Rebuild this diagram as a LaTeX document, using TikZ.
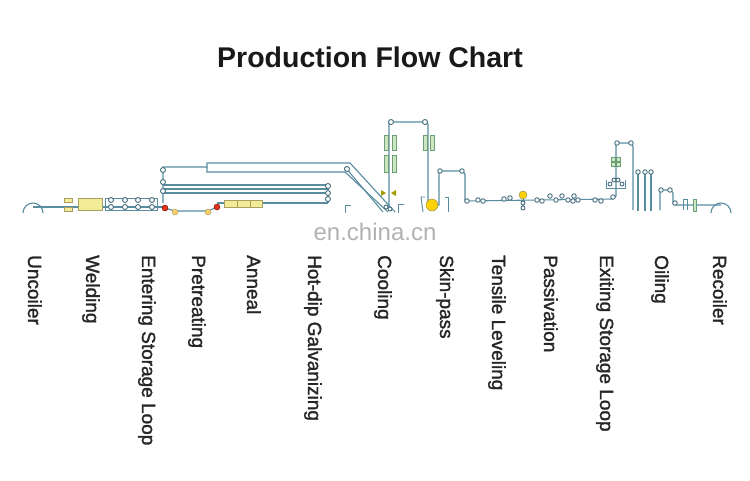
\documentclass[tikz,border=0pt]{standalone}
\usepackage{fontspec}
\setmainfont{Liberation Sans}
\newfontfamily\labfont{Liberation Sans}[FakeBold=1.5]
\begin{document}
\begin{tikzpicture}[x=1pt,y=-1pt,
  ln/.style={draw=lc,line width=1.1pt},
  rl/.style={circle,draw=lc!80!black,fill=white,line width=0.9pt,inner sep=0pt,minimum size=5pt},
  grn/.style={draw=gd,fill=gf,line width=0.7pt},
  yel/.style={draw=yd,fill=yf,line width=0.7pt},
  lab/.style={rotate=-90,anchor=north west,font=\labfont\fontsize{19}{20}\selectfont,inner sep=0pt,text=black!85}]
\definecolor{lc}{HTML}{5A8CA0}
\definecolor{gd}{HTML}{6E9E78}
\definecolor{gf}{HTML}{CDE6C2}
\definecolor{yd}{HTML}{A8A060}
\definecolor{yf}{HTML}{F2EC98}
\useasboundingbox (0,0) rectangle (750,480);
\fill[white] (0,0) rectangle (750,480);
\node[font=\bfseries\fontsize{28.5}{30}\selectfont,text=black!90] (title) at (370,57) {Production Flow Chart};
% main line
\draw[ln] (33,207) -- (164,207);
\draw[ln] (23,213) arc (180:360:10);
% welding
\draw[yel] (64,198) rectangle (72,202);
\draw[yel] (64,207) rectangle (72,211);
\draw[yel] (78,198) rectangle (102,210);
% entering storage
\draw[ln,line width=0.8pt] (105,198) rectangle (157,210);
\foreach \x in {111,125,138,152}{\node[rl] at (\x,200){};\node[rl] at (\x,207){};}
% pretreating
\draw[ln] (165,208) -- (175,211) -- (208,211) -- (217,207);
\node[circle,fill=red!60!brown,draw=red!40!black,minimum size=6pt,inner sep=0pt] at (165,208){};
\node[circle,fill=yf!70!orange,draw=yd,minimum size=6pt,inner sep=0pt] at (175,212){};
\node[circle,fill=yf!70!orange,draw=yd,minimum size=6pt,inner sep=0pt] at (208,212){};
\node[circle,fill=red!60!brown,draw=red!40!black,minimum size=6pt,inner sep=0pt] at (217,207){};
% anneal
\draw[ln] (217,203) -- (328,203);
\draw[yel] (224,200) rectangle (262,207);
\draw[yd] (237,200) -- (237,207) (250,200) -- (250,207);
% loops
\draw[ln] (163,203) -- (163,167) -- (207,167) -- (207,163) -- (350,163) -- (395,212);
\draw[ln] (207,167) -- (207,172) -- (345,172) -- (388,212);
\draw[ln] (345,167) -- (383,212);
\draw[ln] (163,185) -- (328,185) -- (328,189) -- (163,189) -- (163,193) -- (328,193) -- (328,203);
\foreach \p in {(163,170),(163,182),(163,191),(328,186),(328,193),(328,199),(347,169)}{\node[rl] at \p {};}
% pot brackets
\draw[lc,line width=0.9pt] (345,213) -- (345,205) -- (351,205);
\draw[lc,line width=0.9pt] (398,213) -- (398,204) -- (404,204);
% cooling
\draw[ln] (389,210) -- (389,122) -- (425,122) -- (428,124) -- (428,205);
\node[rl] at (391,122){}; \node[rl] at (425,122){};
\foreach \y/\h in {135/15,155/17}{\draw[grn] (384,\y) rectangle (388,\y+\h); \draw[grn] (392,\y) rectangle (396,\y+\h);}
\draw[grn] (423,135) rectangle (427,150); \draw[grn] (430,135) rectangle (434,150);
\fill[olive!80!yellow] (381,190) -- (386,193) -- (381,196) -- cycle;
\fill[olive!80!yellow] (396,190) -- (391,193) -- (396,196) -- cycle;
\node[rl,minimum size=4pt] at (386,207){}; \node[rl,minimum size=4pt] at (390,209){};
% skin pass
\draw[lc,line width=0.9pt] (423,212) -- (421,197) -- (425,197);
\draw[lc,line width=0.9pt] (445,197) -- (448,197) -- (448,212);
\draw[ln] (432,205) -- (439,205) -- (439,171) -- (462,171) -- (465,174) -- (465,201) -- (613,199) -- (616,196) -- (616,143) -- (631,143) -- (633,146) -- (633,210);
\node[circle,fill=yellow!70!orange,draw=yd!80!black,minimum size=12pt,inner sep=0pt] at (432,205){};
\foreach \p in {(440,171),(462,171),(467,201),(478,200),(483,201),(504,199),(510,198),(537,200),(542,201),(573,201),(578,200),(595,200),(601,201),(613,197),(617,143),(631,143),(550,196),(556,200),(562,196),(568,200),(574,196)}{\node[rl,minimum size=4.5pt] at \p {};}
% passivation
\draw[lc,line width=0.8pt] (523,196) -- (523,210);
\node[circle,fill=yellow!70!orange,draw=yd!80!black,minimum size=8pt,inner sep=0pt] at (523,195){};
\node[rl,minimum size=4pt] at (523,203){}; \node[rl,minimum size=4pt] at (523,208){};
% exiting storage device
\foreach \x in {611,616}{\foreach \y in {157,162}{\draw[grn] (\x,\y) rectangle (\x+4.5,\y+4.5);}}
\draw[lc,line width=0.8pt] (606,180) -- (606,188) -- (625,188) -- (625,180);
\node[rl,minimum size=4pt] at (610,184){}; \node[rl,minimum size=4pt] at (614,180){}; \node[rl,minimum size=4pt] at (618,180){}; \node[rl,minimum size=4pt] at (622,184){};
% oiling
\foreach \x in {638,645,651}{\draw[ln] (\x,172) -- (\x,211); \node[rl,minimum size=4.5pt] at (\x,172){};}
% recoiler
\draw[ln] (660,210) -- (660,190) -- (671,190) -- (673,193) -- (673,203) -- (675,205) -- (721,205);
\node[rl,minimum size=4.5pt] at (661,190){}; \node[rl,minimum size=4.5pt] at (670,190){}; \node[rl,minimum size=4.5pt] at (675,203){};
\draw[lc,line width=0.8pt] (683,210) -- (683,199) -- (687,199) -- (687,210);
\draw[grn] (693,199) rectangle (696,211);
\draw[ln] (711,213) arc (180:360:10);
% watermark
\node[text=black!30,font=\fontsize{24}{26}\selectfont] (wm) at (375,232) {en.china.cn};
% labels
\foreach \x/\t in {24/Uncoiler,82/Welding,138/Entering Storage Loop,188/Pretreating,243/Anneal,304/Hot-dip Galvanizing,374/Cooling,436/Skin-pass,488/Tensile Leveling,540/Passivation,596/Exiting Storage Loop,651/Oiling,709/Recoiler}
  {\node[lab] at (\x+18,255) {\t};}
\end{tikzpicture}
\end{document}
